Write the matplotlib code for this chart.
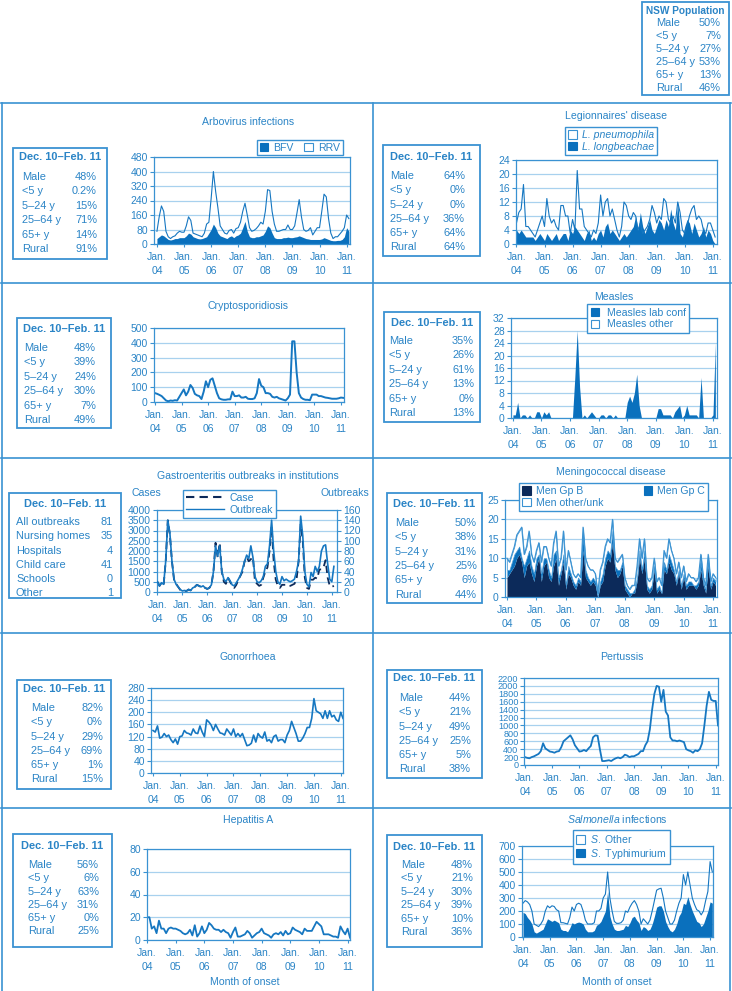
import numpy as np
import pandas as pd
import matplotlib.pyplot as plt
from matplotlib.patches import Patch, Rectangle
from matplotlib.lines import Line2D

# ---------------------------------------------------------------------------
# data (monthly counts, Jan 2004 - Feb 2011)
# ---------------------------------------------------------------------------
months = pd.period_range('2004-01', '2011-02', freq='M')
year_labels = ['04', '05', '06', '07', '08', '09', '10', '11']

rrv = [70, 150, 210, 180, 70, 40, 30, 40, 45, 60, 70, 65,
       65, 100, 150, 130, 60, 55, 50, 45, 40, 60, 110, 120,
       250, 400, 290, 200, 100, 80, 60, 55, 75, 80, 60, 85,
       90, 120, 180, 225, 160, 90, 70, 75, 85, 100, 120, 110,
       180, 300, 295, 180, 110, 70, 70, 75, 80, 80, 105, 80,
       80, 100, 170, 245, 150, 80, 70, 75, 90, 50, 70, 90,
       90, 180, 275, 260, 140, 60, 30, 40, 40, 55, 70, 90,
       160, 140]
bfv = [30, 40, 50, 45, 35, 25, 22, 25, 30, 30, 35, 35,
       35, 45, 60, 55, 40, 35, 30, 28, 30, 35, 40, 60,
       80, 110, 90, 60, 45, 40, 35, 30, 40, 45, 35, 45,
       50, 60, 90, 125, 70, 40, 35, 35, 40, 40, 45, 50,
       70, 100, 90, 60, 35, 30, 30, 30, 35, 35, 38, 35,
       35, 38, 40, 45, 40, 35, 30, 28, 25, 25, 25, 25,
       25, 28, 35, 30, 25, 20, 18, 18, 20, 20, 25, 40,
       90, 70]

l_pneumophila = [6, 9, 10, 17, 5, 5, 4, 3, 2, 4, 6, 8,
                 5, 13, 8, 6, 7, 5, 4, 11, 11, 8, 8, 3,
                 7, 4, 21, 10, 10, 5, 4, 3, 2, 4, 3, 6,
                 14, 8, 12, 13, 8, 10, 7, 4, 2, 5, 12, 11,
                 8, 7, 9, 8, 4, 6, 3, 4, 5, 7, 11, 9,
                 6, 8, 7, 13, 12, 7, 6, 8, 6, 12, 9, 4,
                 3, 5, 8, 10, 11, 7, 8, 7, 4, 3, 6, 6,
                 4, 2]
l_longbeachae = [4, 3, 4, 3, 2, 2, 2, 2, 1, 2, 3, 2,
                 1, 3, 2, 1, 2, 3, 1, 2, 3, 3, 1, 4,
                 3, 5, 4, 3, 2, 1, 3, 4, 1, 2, 1, 3,
                 4, 2, 5, 6, 3, 4, 3, 2, 1, 2, 3, 2,
                 3, 4, 5, 8, 4, 9, 5, 3, 5, 7, 4, 3,
                 5, 7, 6, 4, 7, 5, 10, 6, 4, 12, 3, 2,
                 5, 7, 6, 3, 6, 4, 2, 3, 5, 2, 4, 3,
                 1, 0]

crypto = [60, 55, 48, 40, 25, 10, 5, 10, 8, 12, 10, 35,
          60, 85, 45, 70, 115, 95, 55, 45, 40, 20, 70, 140,
          100, 150, 160, 110, 60, 25, 18, 15, 15, 18, 18, 70,
          40, 40, 45, 30, 30, 35, 22, 20, 20, 25, 60, 155,
          110, 100, 60, 60, 55, 35, 30, 35, 25, 20, 15, 10,
          25, 50, 410, 410, 200, 60, 30, 20, 15, 15, 12, 50,
          50, 50, 40, 40, 35, 30, 28, 25, 22, 22, 22, 25,
          30, 28]

measles_lab = [1, 1, 5, 0, 1, 1, 0, 1, 0, 0, 2, 2,
               0, 2, 1, 2, 0, 0, 0, 0, 0, 0, 0, 0,
               0, 0, 13, 28, 10, 0, 1, 0, 1, 2, 1, 0,
               0, 1, 1, 0, 1, 1, 0, 1, 0, 0, 0, 0,
               5, 7, 5, 8, 14, 4, 0, 0, 0, 0, 0, 0,
               0, 3, 3, 1, 1, 1, 1, 0, 2, 3, 4, 0,
               1, 4, 1, 1, 1, 1, 0, 13, 0, 0, 0, 0,
               1, 24]

gastro_cases = [500, 300, 450, 350, 1500, 3500, 2800, 1500, 600, 400, 250, 100,
                50, 60, 50, 120, 80, 200, 250, 350, 300, 250, 280, 200,
                150, 200, 350, 1000, 2400, 1700, 2400, 1000, 500, 400, 700, 500,
                300, 200, 350, 600, 800, 1000, 1500, 1700, 1500, 1600, 1700, 500,
                400, 300, 350, 700, 1000, 1200, 2000, 3200, 1500, 600, 300, 200,
                350, 350, 350, 300, 300, 350, 400, 600, 1500, 3300, 2500, 700,
                200, 150, 600, 600, 700, 650, 1100, 1100, 1200, 1550, 700, 300,
                250, 300]
gastro_outbreaks = [20, 12, 18, 15, 60, 140, 115, 60, 25, 15, 10, 5,
                    2, 3, 2, 5, 3, 8, 10, 14, 12, 10, 12, 8,
                    6, 8, 14, 40, 90, 70, 90, 40, 25, 20, 28, 22,
                    14, 12, 18, 25, 32, 45, 60, 72, 65, 90, 68, 30,
                    20, 18, 22, 30, 50, 55, 90, 140, 80, 40, 20, 15,
                    30, 22, 25, 22, 20, 22, 25, 40, 60, 148, 110, 40,
                    15, 10, 38, 30, 50, 40, 50, 80, 90, 92, 55, 25,
                    20, 50]

men_b = [5, 6, 7, 8, 10, 11, 9, 5, 8, 9, 6, 4,
         8, 10, 4, 8, 9, 5, 4, 8, 10, 3, 6, 9,
         2, 6, 5, 3, 2, 4, 3, 12, 5, 4, 3, 4,
         3, 0, 3, 4, 8, 10, 9, 14, 7, 5, 6, 8,
         2, 1, 0, 1, 1, 4, 10, 6, 10, 2, 1, 2,
         7, 1, 2, 1, 7, 6, 9, 7, 6, 3, 6, 2,
         5, 2, 3, 3, 3, 2, 3, 7, 3, 1, 8, 2,
         4, 3]
men_c = [2, 1, 2, 3, 2, 2, 1, 3, 2, 3, 2, 2,
         2, 1, 2, 2, 1, 2, 1, 3, 2, 2, 1, 2,
         1, 2, 1, 1, 1, 1, 1, 4, 2, 1, 1, 1,
         1, 0, 1, 2, 2, 2, 2, 3, 1, 2, 1, 1,
         1, 1, 1, 0, 1, 1, 2, 1, 2, 1, 1, 1,
         1, 1, 1, 0, 2, 1, 2, 2, 1, 1, 1, 1,
         1, 1, 1, 1, 0, 1, 1, 2, 1, 1, 1, 1,
         1, 1]
men_total = [10, 9, 11, 13, 16, 17, 18, 11, 13, 17, 11, 9,
             12, 14, 9, 13, 13, 10, 8, 14, 17, 8, 10, 17,
             7, 12, 9, 6, 5, 6, 5, 18, 10, 8, 7, 7,
             6, 1, 7, 9, 13, 15, 14, 20, 10, 9, 10, 11,
             5, 3, 2, 3, 3, 8, 15, 10, 15, 5, 4, 5,
             10, 4, 5, 3, 12, 10, 15, 12, 10, 6, 9, 5,
             8, 4, 6, 5, 5, 4, 5, 11, 5, 3, 11, 4,
             6, 5]

gono = [140, 135, 155, 115, 118, 130, 120, 125, 110, 100, 112, 95,
        120, 122, 140, 132, 130, 125, 145, 132, 130, 155, 135, 120,
        175, 168, 158, 140, 160, 145, 132, 130, 125, 145, 135, 125,
        145, 120, 130, 120, 130, 110, 90, 92, 98, 125, 102, 130,
        120, 115, 135, 105, 110, 100, 120, 125, 105, 110, 110, 100,
        125, 140, 170, 150, 130, 105, 105, 115, 130, 150, 150, 180,
        245, 205, 200, 195, 180, 205, 180, 205, 185, 190, 175, 170,
        200, 180]

pertussis = [200, 180, 170, 200, 220, 250, 280, 350, 550, 420, 380, 340,
             330, 310, 340, 350, 450, 600, 650, 700, 750, 650, 500, 420,
             340, 350, 380, 350, 420, 480, 700, 750, 740, 400, 100, 100,
             110, 120, 100, 140, 170, 190, 170, 200, 260, 240, 200, 220,
             220, 250, 280, 350, 350, 500, 600, 900, 1400, 1800, 2000, 1980,
             1600, 1900, 1350, 1250, 700, 620, 620, 600, 620, 600, 580, 400,
             370, 350, 310, 370, 350, 400, 550, 1000, 1500, 1850, 1650, 1620,
             1620, 1000]

hep_a = [20, 20, 10, 12, 6, 17, 10, 10, 6, 10, 11, 10,
         10, 9, 8, 6, 5, 6, 9, 4, 13, 3, 6, 12,
         6, 9, 15, 13, 10, 9, 9, 7, 9, 7, 6, 2,
         7, 11, 3, 3, 4, 5, 8, 6, 2, 4, 6, 7,
         10, 6, 5, 4, 2, 5, 6, 5, 7, 4, 8, 5,
         6, 11, 9, 8, 7, 5, 10, 8, 8, 8, 12, 16,
         14, 12, 5, 5, 5, 4, 3, 3, 2, 12, 8, 5,
         10, 2]

s_other = [260, 280, 270, 250, 200, 100, 90, 80, 100, 130, 200, 240,
           225, 240, 235, 210, 200, 110, 110, 105, 100, 150, 230, 200,
           250, 260, 250, 200, 130, 100, 100, 100, 110, 200, 200, 220,
           300, 330, 500, 300, 200, 120, 105, 105, 110, 130, 200, 190,
           230, 260, 280, 250, 200, 100, 140, 120, 100, 130, 200, 280,
           360, 370, 375, 300, 200, 150, 100, 100, 130, 200, 260, 300,
           480, 400, 500, 400, 300, 250, 210, 200, 170, 200, 280, 350,
           580, 500]
s_typhimurium = [190, 180, 150, 130, 100, 40, 30, 40, 50, 60, 100, 140,
                 130, 120, 130, 120, 110, 60, 50, 50, 40, 70, 110, 100,
                 110, 115, 110, 100, 60, 40, 40, 40, 50, 90, 100, 120,
                 160, 200, 350, 160, 100, 60, 50, 50, 55, 60, 90, 80,
                 110, 150, 160, 130, 110, 50, 80, 70, 50, 60, 100, 160,
                 230, 240, 240, 200, 120, 80, 50, 40, 60, 100, 160, 190,
                 260, 250, 310, 250, 200, 160, 120, 110, 80, 100, 150, 200,
                 270, 260]

age_rows = ['Male', '<5 y', '5–24 y', '25–64 y', '65+ y', 'Rural']
nsw_pop = ['50%', '7%', '27%', '53%', '13%', '46%']
arbo_pct = ['48%', '0.2%', '15%', '71%', '14%', '91%']
legion_pct = ['64%', '0%', '0%', '36%', '64%', '64%']
crypto_pct = ['48%', '39%', '24%', '30%', '7%', '49%']
measles_pct = ['35%', '26%', '61%', '13%', '0%', '13%']
gastro_rows = ['All outbreaks', 'Nursing homes', 'Hospitals', 'Child care', 'Schools', 'Other']
gastro_n = ['81', '35', '4', '41', '0', '1']
men_pct = ['50%', '38%', '31%', '25%', '6%', '44%']
gono_pct = ['82%', '0%', '29%', '69%', '1%', '15%']
pert_pct = ['44%', '21%', '49%', '25%', '5%', '38%']
hepa_pct = ['56%', '6%', '63%', '31%', '0%', '25%']
salm_pct = ['48%', '21%', '30%', '39%', '10%', '36%']

# ---------------------------------------------------------------------------
# style
# ---------------------------------------------------------------------------
W, H = 732, 991
TXT = '#2a84c6'
LINE = '#1677c1'
FILL = '#0a70bd'
NAVY = '#0c2a5a'
GRID = '#a8d1ee'
EDGE = '#3a92d2'

plt.rcParams['font.family'] = ['Liberation Sans', 'DejaVu Sans']
plt.rcParams['mathtext.fontset'] = 'custom'
plt.rcParams['mathtext.rm'] = 'Liberation Sans'
plt.rcParams['mathtext.it'] = 'Liberation Sans:italic'

x = np.arange(len(months))
jan_idx = [i for i, m in enumerate(months) if m.month == 1]

fig = plt.figure(figsize=(W / 100, H / 100), dpi=100)
fig.patch.set_facecolor('white')


def fx(px):
    return px / W


def fy(py):
    return 1 - py / H


def px_axes(x0, y0, x1, y1):
    return fig.add_axes([fx(x0), fy(y1), (x1 - x0) / W, (y1 - y0) / H])


def style_axes(ax, ymax, ystep, xlim):
    ax.set_xlim(*xlim)
    ax.set_ylim(0, ymax)
    ax.set_yticks(np.arange(0, ymax + 1, ystep))
    ax.yaxis.grid(True, color=GRID, lw=0.9)
    ax.set_axisbelow(True)
    for s in ax.spines.values():
        s.set_color(EDGE)
        s.set_linewidth(0.9)
    ax.set_xticks(jan_idx)
    ax.set_xticklabels([f'Jan.\n{y}' for y in year_labels])
    for lbl in ax.get_xticklabels():
        lbl.set_linespacing(1.45)
    ax.tick_params(axis='both', colors=EDGE, labelcolor=TXT, labelsize=7.5,
                   width=0.8)
    ax.tick_params(axis='x', length=2, pad=4)
    ax.tick_params(axis='y', length=3, pad=1.5)


def stats_box(rect, head_y, row_y, gap, lx, rx, labels, values,
              header='Dec. 10–Feb. 11', head_size=7.9):
    x0, y0, x1, y1 = rect
    fig.patches.append(Rectangle((fx(x0), fy(y1)), (x1 - x0) / W, (y1 - y0) / H,
                                 transform=fig.transFigure, fill=False,
                                 ec=EDGE, lw=1.3))
    fig.text(fx((x0 + x1) / 2), fy(head_y), header, ha='center', va='center',
             fontsize=head_size, weight='bold', color=TXT)
    for i, (lab, val) in enumerate(zip(labels, values)):
        yy = fy(row_y + i * gap)
        fig.text(fx(lx), yy, lab, ha='left', va='center', fontsize=7.9, color=TXT)
        fig.text(fx(rx), yy, val, ha='right', va='center', fontsize=7.9, color=TXT)


def title(px, py, s):
    fig.text(fx(px), fy(py), s, ha='center', va='center', fontsize=7.6, color=TXT)


def legend(handles, labels, px, py, ncol=1, italic=False, **kw):
    prop = {'size': 7.6}
    if italic:
        prop['style'] = 'italic'
    opts = dict(loc='upper left', bbox_to_anchor=(fx(px), fy(py)),
                bbox_transform=fig.transFigure, ncol=ncol, prop=prop,
                frameon=True, fancybox=False, edgecolor=EDGE, framealpha=1,
                borderpad=0.3, handlelength=0.8, handleheight=0.8,
                handletextpad=0.5, labelspacing=0.15, columnspacing=0.8,
                borderaxespad=0)
    opts.update(kw)
    leg = fig.legend(handles, labels, **opts)
    leg.get_frame().set_linewidth(1.0)
    for t in leg.get_texts():
        t.set_color(TXT)
    return leg


def sq(face):
    return Patch(facecolor=face, edgecolor=EDGE if face == 'white' else face, lw=0.8)


# ---------------------------------------------------------------------------
# frame lines
# ---------------------------------------------------------------------------
for yy in (103, 283, 458, 633, 808):
    fig.add_artist(Line2D([fx(1), fx(731)], [fy(yy), fy(yy)], color=EDGE, lw=1.2))
for xx in (2, 373, 730):
    fig.add_artist(Line2D([fx(xx), fx(xx)], [fy(103), fy(991)], color=EDGE, lw=1.2))

stats_box((642, 2, 729, 95), 11, 23, 13.0, 656, 721, age_rows, nsw_pop,
          header='NSW Population', head_size=7.3)

# ---------------------------------------------------------------------------
# Arbovirus
# ---------------------------------------------------------------------------
ax = px_axes(154, 157, 350, 244)
ax.fill_between(x, bfv, color=FILL, lw=0)
ax.plot(x, rrv, color=LINE, lw=0.8)
style_axes(ax, 480, 80, (-1.3, 85.5))
title(248, 122, 'Arbovirus infections')
legend([sq(FILL), sq('white')], ['BFV', 'RRV'], 257, 140, ncol=2,
       columnspacing=1.0, borderpad=0.25)
stats_box((13, 148, 107, 259), 157, 177, 14.4, 22, 97, age_rows, arbo_pct)

# ---------------------------------------------------------------------------
# Legionnaires'
# ---------------------------------------------------------------------------
ax = px_axes(516, 160, 717, 244)
ax.fill_between(x, l_longbeachae, color=FILL, lw=0)
ax.plot(x, l_pneumophila, color=LINE, lw=0.8)
style_axes(ax, 24, 4, (-0.2, 85.8))
title(616, 116, "Legionnaires' disease")
legend([sq('white'), sq(FILL)], ['L. pneumophila', 'L. longbeachae'], 565, 127,
       italic=True)
stats_box((383, 145, 480, 256), 157, 176, 14.3, 390, 465, age_rows, legion_pct)

# ---------------------------------------------------------------------------
# Cryptosporidiosis
# ---------------------------------------------------------------------------
ax = px_axes(154, 328, 344, 402)
ax.plot(x, crypto, color=LINE, lw=1.4)
style_axes(ax, 500, 100, (-0.45, 85.4))
title(248, 306, 'Cryptosporidiosis')
stats_box((17, 318, 111, 428), 329, 348, 14.4, 24, 96, age_rows, crypto_pct)

# ---------------------------------------------------------------------------
# Measles
# ---------------------------------------------------------------------------
ax = px_axes(511, 318, 717, 418)
ax.fill_between(x, measles_lab, color=FILL, lw=0)
style_axes(ax, 32, 4, (-0.8, 85.7))
title(614, 297, 'Measles')
legend([sq(FILL), sq('white')], ['Measles lab conf', 'Measles other'], 587, 304,
       borderpad=0.35, handletextpad=0.7)
stats_box((384, 312, 480, 422), 323, 341, 14.4, 389, 474, age_rows, measles_pct)

# ---------------------------------------------------------------------------
# Gastroenteritis outbreaks
# ---------------------------------------------------------------------------
ax = px_axes(157, 510, 337, 592)
ax.plot(x, gastro_cases, color=NAVY, lw=1.3, ls=(0, (4, 2.5)))
style_axes(ax, 4000, 500, (-0.2, 86.5))
ax2 = ax.twinx()
ax2.plot(x, gastro_outbreaks, color=LINE, lw=1.2)
ax2.set_ylim(0, 160)
ax2.set_yticks(np.arange(0, 161, 20))
ax2.tick_params(axis='y', colors=EDGE, labelcolor=TXT, labelsize=7.5,
                length=3, width=0.8, pad=1.5)
for s in ax2.spines.values():
    s.set_visible(False)
title(248, 476, 'Gastroenteritis outbreaks in institutions')
fig.text(fx(146), fy(493), 'Cases', ha='center', va='center', fontsize=7.6, color=TXT)
fig.text(fx(345), fy(493), 'Outbreaks', ha='center', va='center', fontsize=7.6, color=TXT)
legend([Line2D([], [], color=NAVY, lw=1.5, ls=(0, (4, 2.5))),
        Line2D([], [], color=LINE, lw=1.0)],
       ['Case', 'Outbreak'], 183, 490, handlelength=3.6)
stats_box((9, 493, 121, 598), 504, 522, 14.3, 16, 113, gastro_rows, gastro_n)

# ---------------------------------------------------------------------------
# Meningococcal
# ---------------------------------------------------------------------------
ax = px_axes(505, 500, 717, 597)
bc = np.add(men_b, men_c)
ax.fill_between(x, men_b, color=NAVY, lw=0)
ax.fill_between(x, men_b, bc, color=FILL, lw=0)
ax.fill_between(x, bc, men_total, facecolor='white', edgecolor=EDGE, lw=0.5)
ax.plot(x, men_total, color=EDGE, lw=0.8)
style_axes(ax, 25, 5, (-0.8, 85.6))
title(611, 472, 'Meningococcal disease')
legend([sq(NAVY), sq('white'), sq(FILL)],
       ['Men Gp B', 'Men other/unk', 'Men Gp C'], 519, 483, ncol=2,
       columnspacing=3.8)
stats_box((387, 493, 482, 603), 504, 523, 14.3, 395, 477, age_rows, men_pct)

# ---------------------------------------------------------------------------
# Gonorrhoea
# ---------------------------------------------------------------------------
ax = px_axes(151, 688, 343, 773)
ax.plot(x, gono, color=LINE, lw=1.2)
style_axes(ax, 280, 40, (-0.9, 85.0))
title(248, 657, 'Gonorrhoea')
stats_box((17, 680, 111, 789), 689, 708, 14.3, 31, 103, age_rows, gono_pct)

# ---------------------------------------------------------------------------
# Pertussis
# ---------------------------------------------------------------------------
ax = px_axes(524, 678, 718, 765)
ax.plot(x, pertussis, color=LINE, lw=1.3)
style_axes(ax, 2200, 200, (-0.4, 85.0))
ax.tick_params(axis='y', labelsize=6.6, pad=1)
title(622, 657, 'Pertussis')
stats_box((387, 670, 482, 778), 678, 698, 14.3, 399, 471, age_rows, pert_pct)

# ---------------------------------------------------------------------------
# Hepatitis A
# ---------------------------------------------------------------------------
ax = px_axes(147, 849, 350, 940)
ax.plot(x, hep_a, color=LINE, lw=1.3)
style_axes(ax, 80, 20, (0, 85.0))
title(248, 820, 'Hepatitis A')
fig.text(fx(245), fy(982), 'Month of onset', ha='center', va='center',
         fontsize=7.6, color=TXT)
stats_box((13, 834, 112, 947), 846, 865, 13.3, 28, 99, age_rows, hepa_pct)

# ---------------------------------------------------------------------------
# Salmonella
# ---------------------------------------------------------------------------
ax = px_axes(522, 846, 713, 937)
ax.fill_between(x, s_typhimurium, color=FILL, lw=0)
ax.plot(x, s_other, color=LINE, lw=0.8)
style_axes(ax, 700, 100, (-0.45, 85.3))
title(617, 819, r'$\it{Salmonella}$ infections')
legend([sq('white'), sq(FILL)], [r'$\it{S.}$ Other', r'$\it{S.}$ Typhimurium'],
       573, 830)
fig.text(fx(617), fy(982), 'Month of onset', ha='center', va='center',
         fontsize=7.6, color=TXT)
stats_box((387, 835, 482, 947), 847, 865, 13.4, 401, 473, age_rows, salm_pct)

fig.savefig('out.png', dpi=100)
